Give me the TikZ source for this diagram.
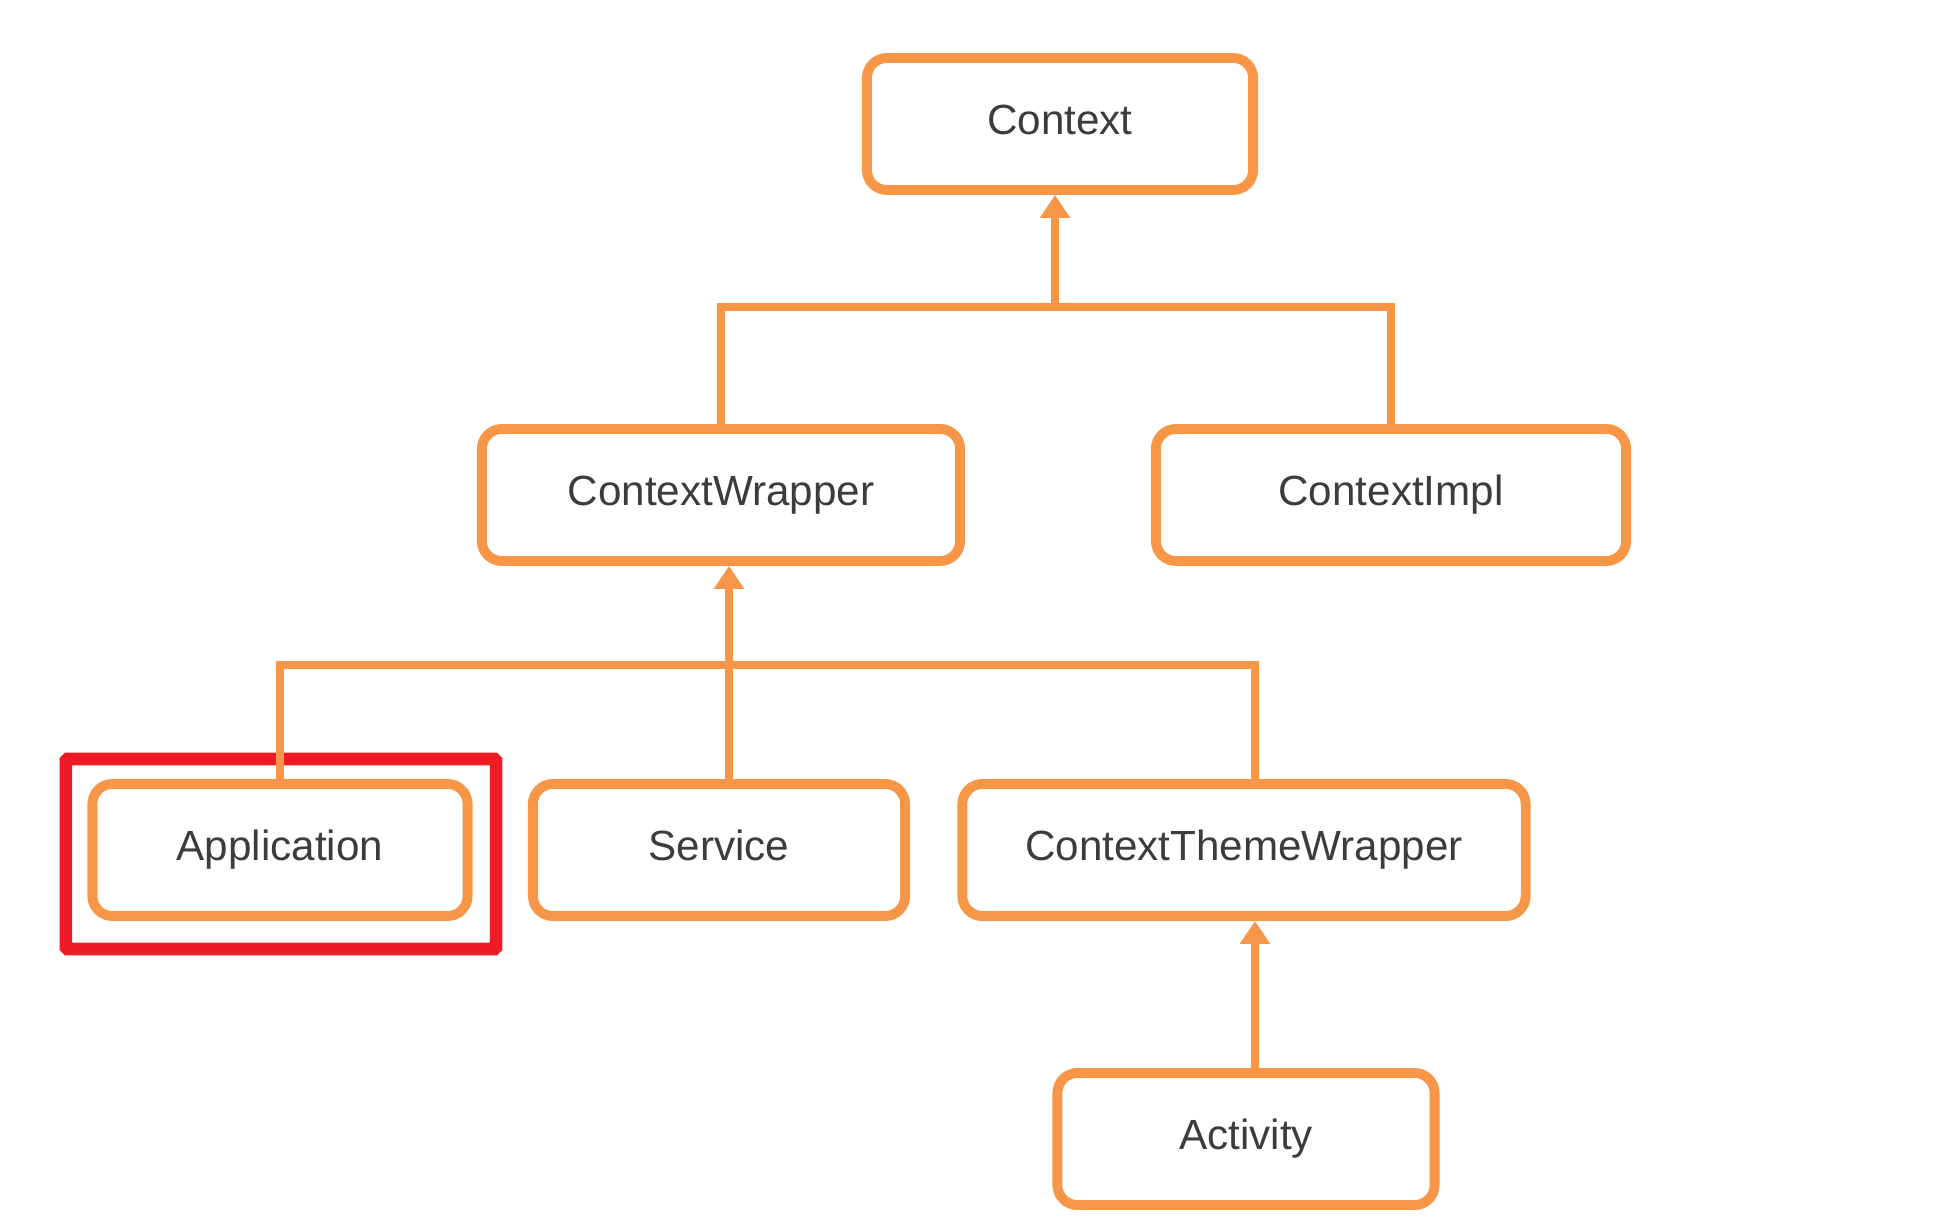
\documentclass[tikz,border=0pt]{standalone}
\usepackage{fontspec}
\setmainfont{Liberation Sans}
\usetikzlibrary{arrows.meta}
\definecolor{boxorange}{RGB}{247,150,70}
\definecolor{markred}{RGB}{237,28,36}
\definecolor{labelgray}{RGB}{60,60,60}

\begin{document}
\begin{tikzpicture}[x=0.01cm,y=-0.01cm,
        every node/.style={font=\fontsize{12}{14}\selectfont,text=labelgray},
        cls/.style={draw=boxorange,line width=2.8pt,rounded corners=0.2cm,fill=white,minimum height=1.32cm,text height=0.72em,text depth=0.12em},
        link/.style={draw=boxorange,line width=2.3pt},
        arr/.style={link,-{Triangle[length=0.23cm,width=0.29cm]}},
        redframe/.style={draw=markred,line width=3.6pt,rounded corners=0.5pt,minimum width=4.3cm,minimum height=1.9cm}]
        \useasboundingbox (0,0) rectangle (1934,1228);
        % classes
        \node[cls,minimum width=3.86cm] (ctx) at (1060,124) {Context};
        \node[cls,minimum width=4.78cm] (cw) at (721,495) {ContextWrapper};
        \node[cls,minimum width=4.70cm] (ci) at (1391,495) {ContextImpl};
        \node[cls,minimum width=3.75cm] (app) at (280,850) {Application};
        \node[cls,minimum width=3.72cm] (svc) at (719,850) {Service};
        \node[cls,minimum width=5.63cm] (ctw) at (1244,850) {ContextThemeWrapper};
        \node[cls,minimum width=3.77cm] (act) at (1246,1139) {Activity};
        \node[redframe] (hilite) at (281,854) {};
        % junctions of the trees
        \coordinate (j1) at (1055,307);
        \coordinate (j2) at (729,665);
        \coordinate (j3) at (1255,665);
        \draw[link] (cw.north) |- (j1) -| (ci.north);
        \draw[arr] (j1) -- (ctx.south -| j1);
        \draw[link] (app.north) |- (j2) -- (j3) -- (ctw.north -| j3);
        \draw[link] (svc.north -| j2) -- (j2);
        \draw[arr] (j2) -- (cw.south -| j2);
        \draw[arr] (act.north -| j3) -- (ctw.south -| j3);
      \end{tikzpicture}
\end{document}
